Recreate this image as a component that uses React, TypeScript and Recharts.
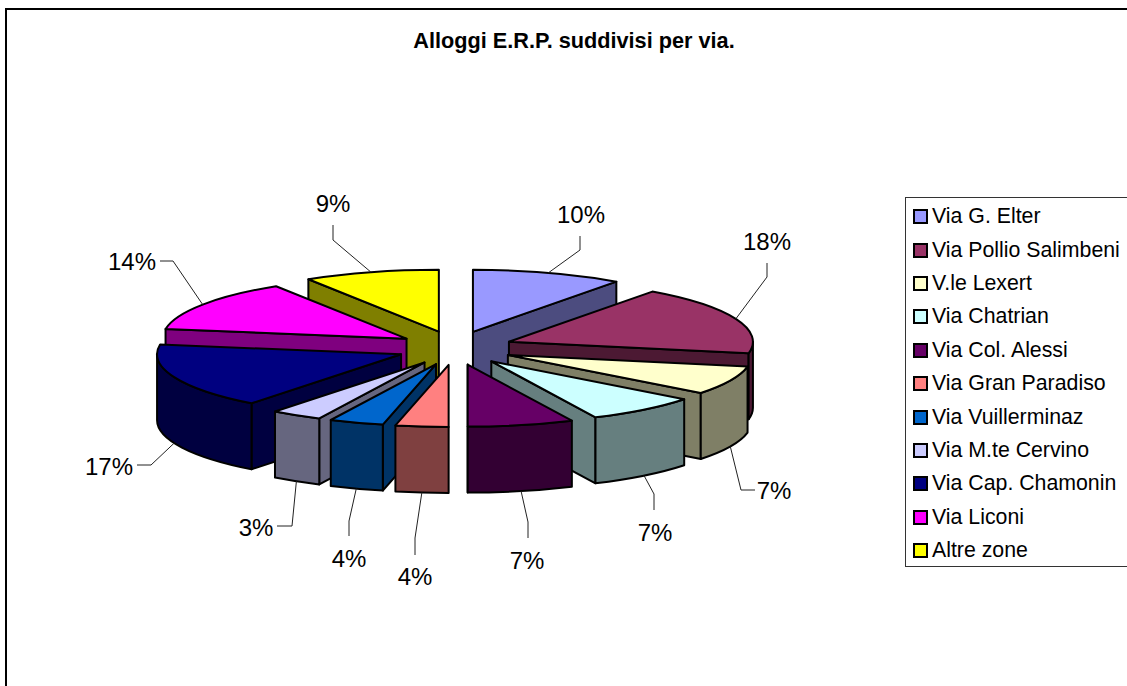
import { Legend, Pie, PieChart } from "recharts";

const NAMES = [
  "Via G. Elter",
  "Via Pollio Salimbeni",
  "V.le Lexert",
  "Via Chatrian",
  "Via Col. Alessi",
  "Via Gran Paradiso",
  "Via Vuillerminaz",
  "Via M.te Cervino",
  "Via Cap. Chamonin",
  "Via Liconi",
  "Altre zone",
];
// estimated shares, the picture only prints them rounded
const SHARES = [10.0, 18.0, 7.49, 7.49, 7.02, 3.5, 3.6, 3.4, 17.0, 13.52, 8.98];
const COLORS = [
  "#9999FF",
  "#993366",
  "#FFFFCC",
  "#CCFFFF",
  "#660066",
  "#FF8080",
  "#0066CC",
  "#CCCCFF",
  "#000080",
  "#FF00FF",
  "#FFFF00",
];

const rows = NAMES.map((name, i) => ({ name, value: SHARES[i], fill: COLORS[i] }));

// back to front, so nearer slices cover the walls behind them
const DRAW_ORDER = [0, 10, 1, 9, 2, 8, 3, 7, 4, 6, 5];

// elbow and text anchor of each leader line
const LEADERS = [
  { elbow: [580, 250], end: [580, 236], text: [581, 214] },
  { elbow: [767, 277], end: [767, 263], text: [767, 241] },
  { elbow: [741, 490], end: [755, 490], text: [774, 490] },
  { elbow: [654, 494], end: [654, 510], text: [655, 532] },
  { elbow: [528, 522], end: [528, 538], text: [527, 560] },
  { elbow: [415, 538], end: [415, 555], text: [415, 576] },
  { elbow: [349, 521], end: [349, 536], text: [349, 558] },
  { elbow: [292, 526], end: [277, 526], text: [256, 527] },
  { elbow: [151, 465], end: [137, 465], text: [109, 466] },
  { elbow: [173, 261], end: [160, 261], text: [132, 261] },
  { elbow: [333, 240], end: [333, 225], text: [333, 203] },
];

const FONT = '"Liberation Sans", Arial, sans-serif';
const SQUASH = 62 / 244;
const DEPTH = 66;
const EXPLODE_X = 58;
const EXPLODE_Y = 17;
const RAD = Math.PI / 180;

function darker(hex: string) {
  const half = (from: number) =>
    Math.floor(parseInt(hex.slice(from, from + 2), 16) / 2)
      .toString(16)
      .padStart(2, "0");
  return `#${half(1)}${half(3)}${half(5)}`;
}

// project a pie angle onto the tilted disc of an exploded slice
function projector(cx: number, cy: number, r: number, mid: number) {
  const tipX = cx + EXPLODE_X * Math.cos(mid * RAD);
  const tipY = cy - EXPLODE_Y * Math.sin(mid * RAD);
  return {
    tipX,
    tipY,
    at: (a: number, drop = 0) => ({
      x: tipX + r * Math.cos(a * RAD),
      y: tipY - r * SQUASH * Math.sin(a * RAD) + drop,
    }),
  };
}

function Slice(props: any) {
  const { cx, cy, outerRadius: r, startAngle, endAngle, fill } = props;
  const mid = (startAngle + endAngle) / 2;
  const { tipX, tipY, at } = projector(cx, cy, r, mid);
  const ry = r * SQUASH;
  const side = darker(fill);
  const line = { stroke: "#000", strokeWidth: 2, strokeLinejoin: "round" as const };

  const start = at(startAngle);
  const end = at(endAngle);
  const arc = (a: number, b: number, sweep: number) =>
    `A${r} ${ry} 0 ${Math.abs(a - b) > 180 ? 1 : 0} ${sweep} `;

  const face = (p: { x: number; y: number }) =>
    `M${tipX} ${tipY}L${p.x} ${p.y}L${p.x} ${p.y + DEPTH}L${tipX} ${tipY + DEPTH}Z`;

  // the part of the rim that faces the viewer
  const wallFrom = Math.min(startAngle, 0);
  const wallTo = Math.max(endAngle, -180);
  let wall = "";
  if (wallFrom > wallTo) {
    const a = at(wallFrom);
    const b = at(wallTo);
    wall =
      `M${a.x} ${a.y}` +
      arc(wallFrom, wallTo, 1) +
      `${b.x} ${b.y}L${b.x} ${b.y + DEPTH}` +
      arc(wallFrom, wallTo, 0) +
      `${a.x} ${a.y + DEPTH}Z`;
  }

  return (
    <g>
      {Math.cos(startAngle * RAD) < 0 && <path d={face(start)} fill={side} {...line} />}
      {Math.cos(endAngle * RAD) > 0 && <path d={face(end)} fill={side} {...line} />}
      {wall && <path d={wall} fill={side} {...line} />}
      <path
        d={
          `M${tipX} ${tipY}L${start.x} ${start.y}` +
          arc(startAngle, endAngle, 1) +
          `${end.x} ${end.y}Z`
        }
        fill={fill}
        {...line}
      />
    </g>
  );
}

function sliceOnly(index: number) {
  return (props: any) => (props.name === NAMES[index] ? <Slice {...props} /> : <g />);
}

function PercentLabel(props: any) {
  const { cx, cy, outerRadius: r, midAngle, percent, index } = props;
  const { at } = projector(cx, cy, r, midAngle);
  const front = Math.sin(midAngle * RAD) < 0;
  const from = at(midAngle, front ? DEPTH : 0);
  const { elbow, end, text } = LEADERS[index];
  return (
    <g>
      <polyline
        points={`${from.x},${from.y} ${elbow[0]},${elbow[1]} ${end[0]},${end[1]}`}
        fill="none"
        stroke="#222"
        strokeWidth={1}
      />
      <text
        x={text[0]}
        y={text[1]}
        textAnchor="middle"
        dominantBaseline="central"
        fontFamily={FONT}
        fontSize={24}
        fill="#000"
      >
        {`${Math.round(percent * 100)}%`}
      </text>
    </g>
  );
}

function LegendBox({ payload }: any) {
  // every Pie reports its sectors, keep one entry per name in data order
  const entries = NAMES.map((name) => (payload || []).find((e: any) => e.value === name)).filter(
    Boolean,
  );
  return (
    <div
      style={{
        boxSizing: "border-box",
        width: 240,
        height: 370,
        border: "1px solid #333",
        background: "#fff",
        paddingTop: 2,
      }}
    >
      {entries.map((entry: any) => (
        <div
          key={entry.value}
          style={{
            height: 33.4,
            display: "flex",
            alignItems: "center",
            paddingLeft: 7,
            fontFamily: FONT,
            fontSize: 21.3,
            color: "#000",
            whiteSpace: "nowrap",
          }}
        >
          <span
            style={{
              boxSizing: "border-box",
              width: 15,
              height: 15,
              marginRight: 4,
              border: "2px solid #000",
              background: entry.color,
            }}
          />
          {entry.value}
        </div>
      ))}
    </div>
  );
}

export default function App() {
  return (
    <div
      style={{
        position: "absolute",
        left: 0,
        top: 0,
        width: 1127,
        height: 686,
        overflow: "hidden",
        background: "#fff",
      }}
    >
      <div
        style={{
          position: "absolute",
          left: 5,
          top: 8,
          width: 1200,
          height: 800,
          borderLeft: "2px solid #000",
          borderTop: "2px solid #000",
        }}
      />
      <PieChart
        width={1127}
        height={686}
        margin={{ top: 0, right: 0, bottom: 0, left: 0 }}
        style={{ position: "absolute", left: 0, top: 0 }}
      >
        <text
          x={574}
          y={40}
          textAnchor="middle"
          dominantBaseline="central"
          fontFamily={FONT}
          fontSize={21.7}
          fontWeight="bold"
          fill="#000"
        >
          Alloggi E.R.P. suddivisi per via.
        </text>
        {DRAW_ORDER.map((index, i) => (
          <Pie
            key={index}
            data={rows}
            dataKey="value"
            nameKey="name"
            cx={455}
            cy={348}
            outerRadius={244}
            startAngle={90}
            endAngle={-270}
            isAnimationActive={false}
            shape={sliceOnly(index)}
            labelLine={false}
            label={i === DRAW_ORDER.length - 1 ? PercentLabel : false}
          />
        ))}
        <Legend
          content={LegendBox}
          wrapperStyle={{ position: "absolute", left: 905, top: 197, width: 240, height: 370 }}
        />
      </PieChart>
    </div>
  );
}
